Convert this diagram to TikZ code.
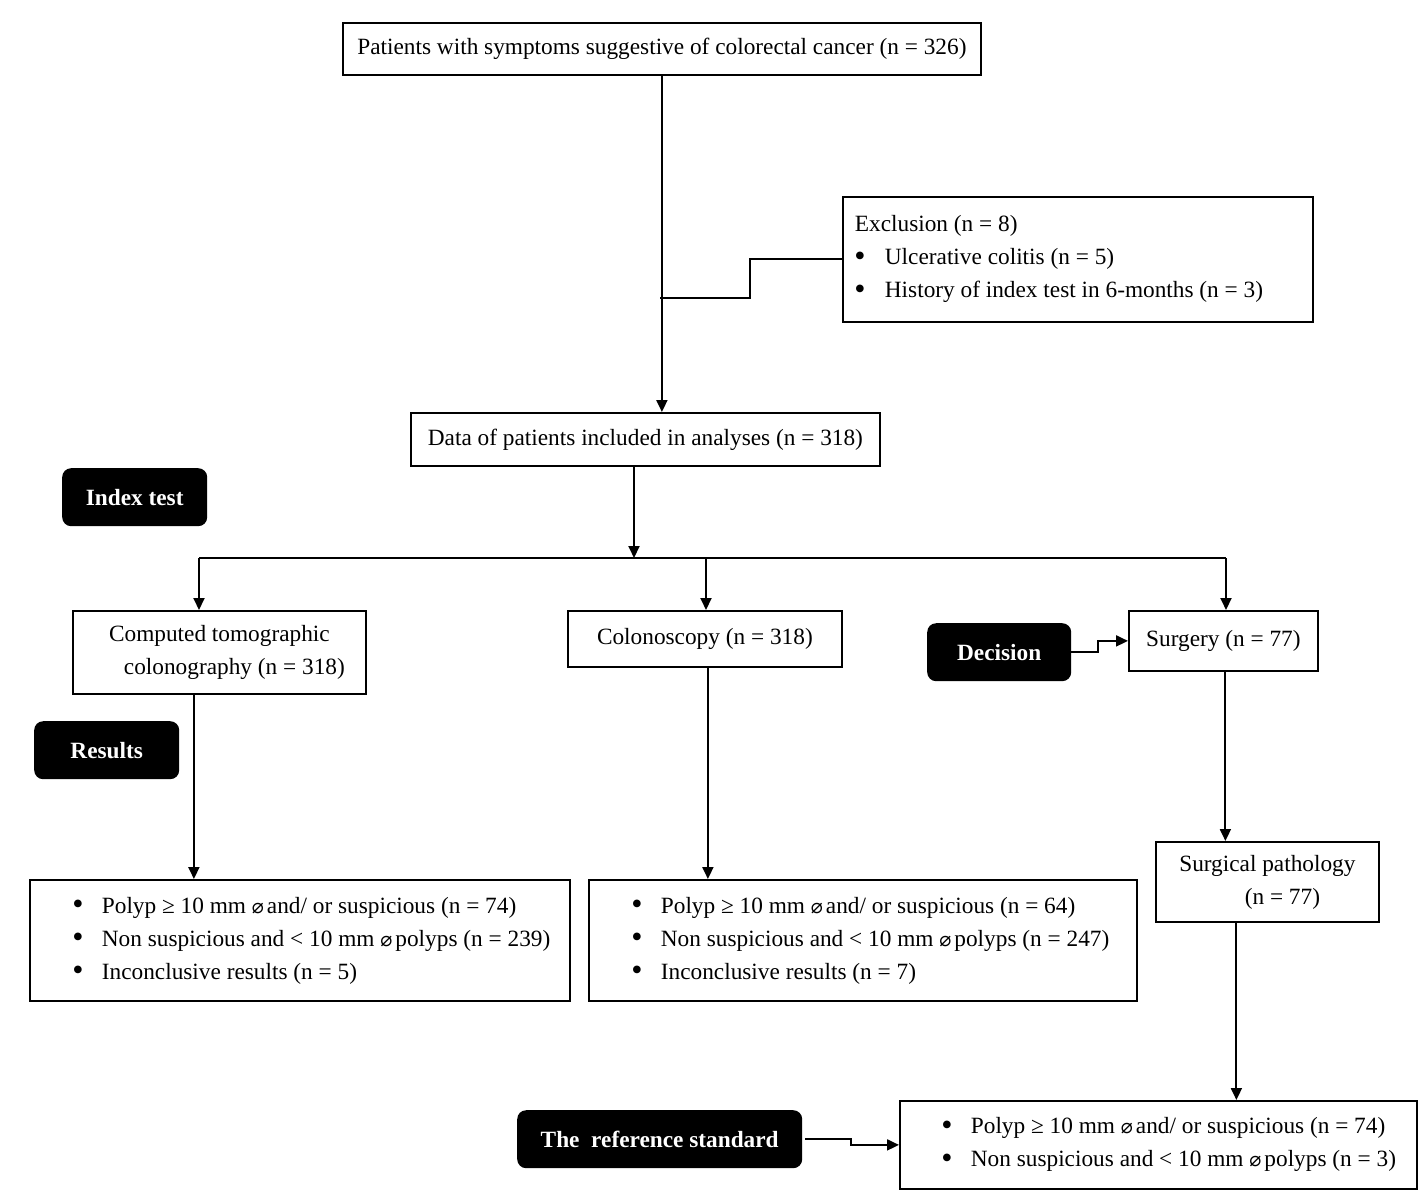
\documentclass[tikz,border=0pt]{standalone}
\usepackage{fontspec}
\setmainfont{Liberation Serif}
\newfontfamily\dejavu{DejaVu Sans}
\usetikzlibrary{arrows.meta,calc}
\newcommand{\diam}{{\fontsize{20}{20}\selectfont\dejavu ⌀}}
\newcommand{\bitem}[2]{\makebox[#1][c]{\raisebox{-1.5pt}{\fontsize{32}{32}\selectfont\textbullet}}\hspace{#2}}
\begin{document}
\begin{tikzpicture}[x=1pt,y=-1pt,
  every node/.style={font=\fontsize{23.3}{33}\selectfont},
  box/.style={draw, line width=1.8pt, anchor=north west, inner sep=0pt, align=center},
  listbox/.style={draw, line width=1.8pt, anchor=north west, inner ysep=0pt, align=flush left},
  tag/.style={fill=black, rounded corners=9pt, anchor=north west, text=white,
    font=\fontsize{23.3}{33}\selectfont\bfseries, inner sep=0pt},
  conn/.style={line width=1.9pt},
  arr/.style={conn, -{Triangle[length=12pt,width=11pt]}}]
\useasboundingbox (0,0) rectangle (1418,1191);

% boxes
\node[box, minimum width=638pt, minimum height=52pt] (top) at (342,22)
  {Patients with symptoms suggestive of colorectal cancer (n = 326)};
\node[listbox, inner xsep=12pt, text width=446pt, minimum height=125pt] (excl) at (842,196)
  {Exclusion (n = 8)\\
   \bitem{10pt}{20pt}Ulcerative colitis (n = 5)\\
   \bitem{10pt}{20pt}History of index test in 6-months (n = 3)};
\node[box, minimum width=469pt, minimum height=53pt] (data) at (410,412)
  {Data of patients included in analyses (n = 318)};
\node[tag, minimum width=145pt, minimum height=58pt] (index) at (62,468) {Index test};
\node[box, minimum width=293pt, minimum height=83pt] (ct) at (72,610)
  {Computed tomographic\\\hspace*{30pt}colonography (n = 318)};
\node[box, minimum width=274pt, minimum height=56pt] (colo) at (567,610)
  {Colonoscopy (n = 318)};
\node[tag, minimum width=144pt, minimum height=58pt] (dec) at (927,623) {Decision};
\node[box, minimum width=189pt, minimum height=60pt] (surg) at (1128,610)
  {Surgery (n = 77)};
\node[tag, minimum width=145pt, minimum height=58pt] (res) at (34,721) {Results};
\node[listbox, inner xsep=24pt, text width=492pt, minimum height=121pt] (ctres) at (29,879)
  {\mbox{\bitem{48pt}{0pt}Polyp ≥ 10 mm \diam\hspace{3pt}and/ or suspicious (n = 74)}\\
   \mbox{\bitem{48pt}{0pt}Non suspicious and < 10 mm \diam\hspace{3pt}polyps (n = 239)}\\
   \mbox{\bitem{48pt}{0pt}Inconclusive results (n = 5)}};
\node[listbox, inner xsep=24pt, text width=500pt, minimum height=121pt] (colres) at (588,879)
  {\mbox{\bitem{48pt}{0pt}Polyp ≥ 10 mm \diam\hspace{3pt}and/ or suspicious (n = 64)}\\
   \mbox{\bitem{48pt}{0pt}Non suspicious and < 10 mm \diam\hspace{3pt}polyps (n = 247)}\\
   \mbox{\bitem{48pt}{0pt}Inconclusive results (n = 7)}};
\node[box, minimum width=223pt, minimum height=80pt] (sp) at (1155,841)
  {Surgical pathology\\\hspace*{30pt}(n = 77)};
\node[tag, minimum width=285pt, minimum height=58pt] (ref) at (517,1110)
  {The\ \ reference standard};
\node[listbox, inner xsep=23pt, text width=471pt, minimum height=88pt] (bot) at (899,1100)
  {\mbox{\bitem{48pt}{0pt}Polyp ≥ 10 mm \diam\hspace{3pt}and/ or suspicious (n = 74)}\\
   \mbox{\bitem{48pt}{0pt}Non suspicious and < 10 mm \diam\hspace{3pt}polyps (n = 3)}};

% connector coordinates
\coordinate (j1) at (660,298);
\coordinate (dout) at (634,465);
\coordinate (split) at (634,558);
\coordinate (bl) at (199,558);
\coordinate (bm) at (706,558);
\coordinate (br) at (1226,558);
\coordinate (cto) at ([xshift=-25.5pt]ct.south);
\coordinate (coo) at ([xshift=3pt]colo.south);
\coordinate (so) at ([xshift=2pt]surg.south);
\coordinate (spo) at ([xshift=-31pt]sp.south);

% connectors
\draw[arr] (top.south) -- (top.south |- data.north);
\draw[conn] (excl.west) -- ++(-92,0) |- (j1);
\draw[arr] (dout) -- (split);
\draw[conn] (bl) -- (br);
\draw[arr] (bl) -- (bl |- ct.north);
\draw[arr] (bm) -- (bm |- colo.north);
\draw[arr] (br) -- (br |- surg.north);
\draw[arr] (dec.east) -- ++(27,0) |- (surg.west);
\draw[arr] (cto) -- (cto |- ctres.north);
\draw[arr] (coo) -- (coo |- colres.north);
\draw[arr] (so) -- (so |- sp.north);
\draw[arr] (spo) -- (spo |- bot.north);
\draw[arr] ([xshift=3pt]ref.east) -- ++(46,0) |- (bot.west);
\end{tikzpicture}
\end{document}
